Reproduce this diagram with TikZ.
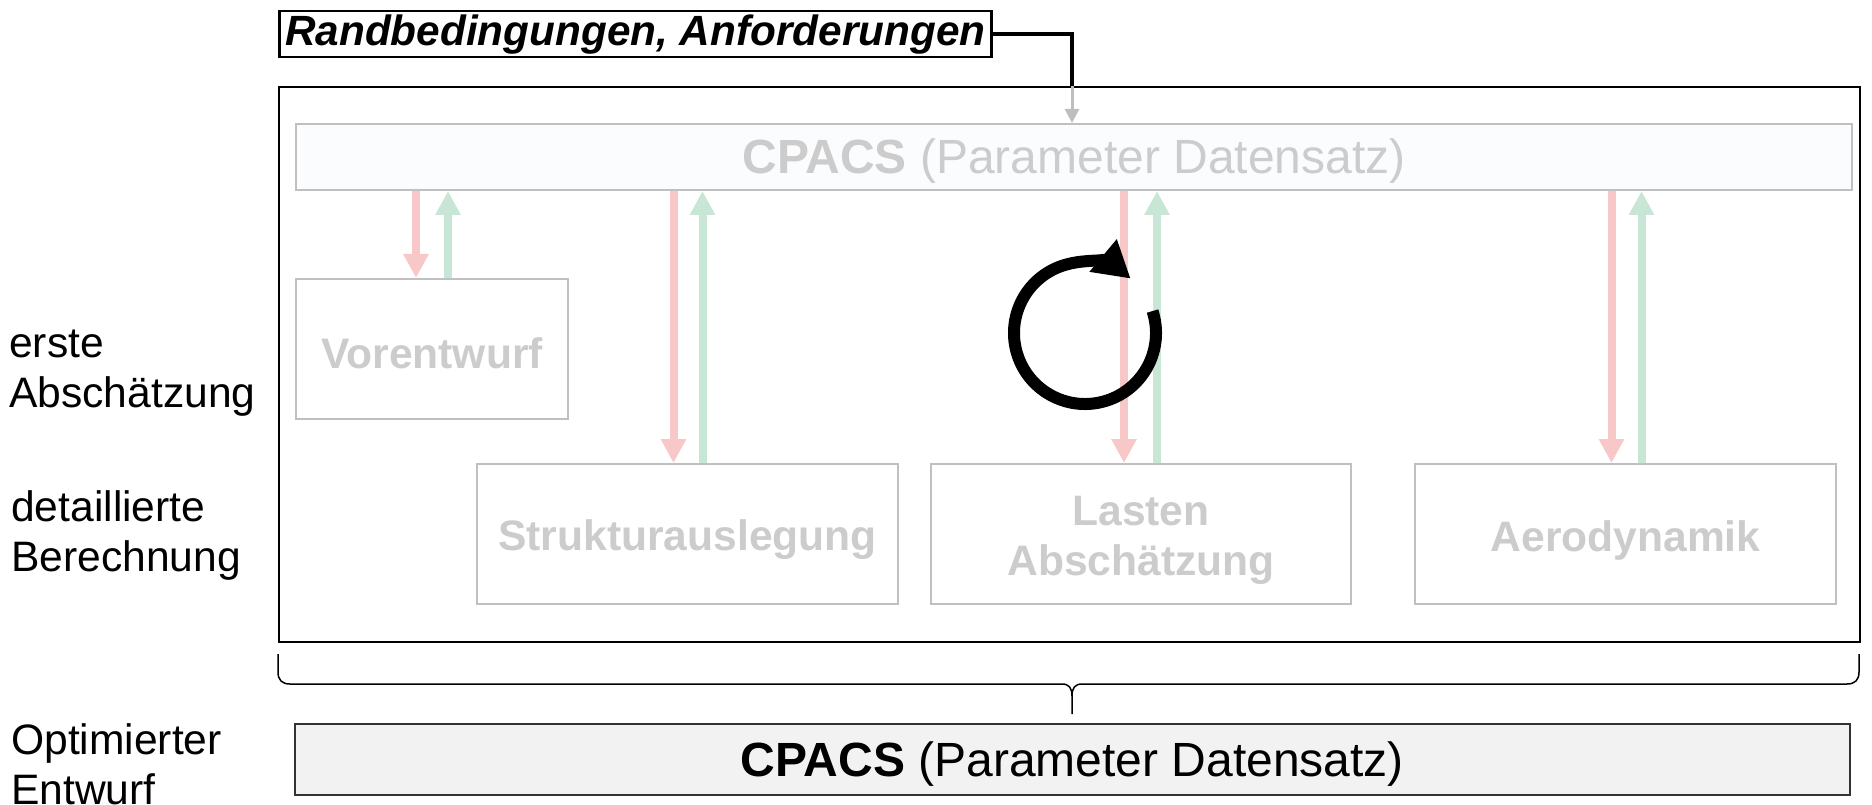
\documentclass[tikz,border=0pt]{standalone}
\usepackage{fontspec}
\setmainfont{Liberation Sans}
\usetikzlibrary{arrows.meta}
\definecolor{boxgray}{RGB}{192,192,192}
\definecolor{txtgray}{RGB}{204,204,204}
\definecolor{arrred}{RGB}{248,200,200}
\definecolor{arrgreen}{RGB}{200,230,214}
\definecolor{barfill}{RGB}{251,252,254}
\definecolor{finalfill}{RGB}{242,242,242}
\definecolor{ingray}{RGB}{190,190,190}
\newcommand{\twolines}[2]{\begin{tabular}{@{}c@{}}#1\\#2\end{tabular}}
\newcommand{\twolinesl}[2]{\begin{tabular}{@{}l@{}}#1\\#2\end{tabular}}
\newcommand{\lowered}[2]{\raisebox{-#1}[\height][\depth]{#2}}
\begin{document}
\begin{tikzpicture}[x=1pt,y=1pt,
  modbox/.style={draw=boxgray, line width=2pt, fill=white, text=txtgray, inner sep=0pt,
     anchor=north west, font=\fontsize{42.6}{50}\selectfont\bfseries},
  cpacsbar/.style={draw=boxgray, line width=2pt, fill=barfill, text=txtgray, inner sep=0pt,
     anchor=north west, font=\fontsize{48}{56}\selectfont},
  finalbar/.style={draw=black!80, line width=1.5pt, fill=finalfill, text=black, inner sep=0pt,
     anchor=north west, font=\fontsize{48}{56}\selectfont},
  outerbox/.style={draw=black, line width=2pt, inner sep=0pt, anchor=north west},
  rbbox/.style={draw=black, line width=2.5pt, fill=white, inner sep=0pt, anchor=north west,
     font=\fontsize{42.3}{50}\selectfont\bfseries\itshape},
  sidelabel/.style={anchor=west, inner sep=0pt, font=\fontsize{42.6}{50}\selectfont},
  redarr/.style={draw=arrred, line width=8pt, -{Triangle[length=24pt,width=24pt]}},
  greenarr/.style={draw=arrgreen, line width=8pt, -{Triangle[length=24pt,width=24pt]}},
  blkline/.style={draw=black, line width=3.5pt},
  grayarr/.style={draw=ingray, line width=3pt, -{Triangle[length=14pt,width=14pt]}},
  cyclearr/.style={draw=black, line width=12pt, -{Triangle[length=36pt,width=40pt]}},
  bracestyle/.style={draw=black, line width=1.5pt}
]
\useasboundingbox (0,0) rectangle (1872,-805);

% outer frame
\node[outerbox, minimum width=1581pt, minimum height=555pt] (outer) at (278,-86) {};

% CPACS top bar
\node[cpacsbar, minimum width=1556pt, minimum height=66pt] (cpacs) at (295,-123)
  {\lowered{4pt}{\textbf{CPACS} (Parameter Datensatz)}};

% modules
\node[modbox, minimum width=272pt, minimum height=140pt] (vor) at (295,-278) {\lowered{4pt}{Vorentwurf}};
\node[modbox, minimum width=421pt, minimum height=140pt] (struct) at (476,-463) {\lowered{6pt}{Strukturauslegung}};
\node[modbox, minimum width=420pt, minimum height=140pt] (lasten) at (930,-463) {\lowered{6pt}{\twolines{Lasten}{Abschätzung}}};
\node[modbox, minimum width=421pt, minimum height=140pt] (aero) at (1414,-463) {\lowered{6pt}{Aerodynamik}};

% requirements box
\node[rbbox, minimum width=712pt, minimum height=46pt] (rb) at (278,-10) {Randbedingungen, Anforderungen};

% final bar
\node[finalbar, minimum width=1555pt, minimum height=71pt] (final) at (294,-723)
  {\lowered{5pt}{\textbf{CPACS} (Parameter Datensatz)}};

% side labels
\node[sidelabel] (l1) at (9,-372) {\twolinesl{erste}{Abschätzung}};
\node[sidelabel] (l2) at (11,-536) {\twolinesl{detaillierte}{Berechnung}};
\node[sidelabel] (l3) at (11,-769) {\twolinesl{Optimierter}{Entwurf}};

% input connector
\coordinate (entry) at (1072,-86);
\draw[blkline] (rb.east) -| (entry);
\draw[grayarr] (entry) -- (entry |- cpacs.north);

% data exchange arrows
\foreach \n/\dl/\dr in {vor/-16/16, struct/-14/15, lasten/-17/16, aero/-14/16}{
  \coordinate (\n-r) at ([xshift=\dl pt]\n.north);
  \coordinate (\n-g) at ([xshift=\dr pt]\n.north);
  \draw[redarr] (\n-r |- cpacs.south) -- (\n-r);
  \draw[greenarr] (\n-g) -- (\n-g |- cpacs.south);
}

% iteration symbol
\coordinate (cyc) at (1085,-333);
\draw[cyclearr] ([shift={(18:71)}]cyc) arc[start angle=18, end angle=-310, radius=71];

% brace
\coordinate (tip) at (1072,-714);
\draw[bracestyle] (278,-654) -- (278,-672) .. controls (278,-680) and (282,-684) .. (290,-684)
  -- (1062,-684) .. controls (1069,-684) and (1072,-688) .. (1072,-696) -- (tip);
\draw[bracestyle] (1072,-696) .. controls (1072,-688) and (1075,-684) .. (1082,-684)
  -- (1847,-684) .. controls (1855,-684) and (1859,-680) .. (1859,-672) -- (1859,-654);
\end{tikzpicture}
\end{document}
